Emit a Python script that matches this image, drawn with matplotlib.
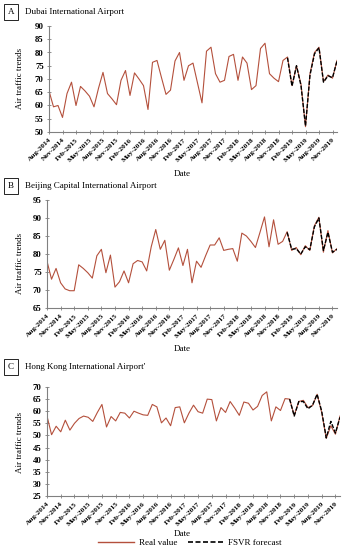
import matplotlib
matplotlib.use("Agg")
import matplotlib.pyplot as plt
import numpy as np

plt.rcParams['font.family'] = ['Liberation Serif', 'DejaVu Serif']

# monthly values, Aug-2014 .. Dec-2019
dubai_real = [65.5, 59.5, 60, 55.5, 64.5, 68.8, 60, 67.2, 65.5, 63.5, 59.5, 66.5,
              72.5, 64.5, 62.5, 60.3, 69.5, 73.2, 63.8, 72.3, 70, 67.5, 58.5, 76.3,
              77, 70.5, 64.2, 65.8, 76.8, 80, 69.5, 75, 76, 68.5, 61, 80.5,
              82, 72, 68.8, 69.5, 78.5, 79.3, 69.5, 78.3, 76, 66, 67.5, 81.5,
              83.5, 72, 70.3, 69, 77, 78.3, 67.5, 75, 68, 52, 72, 80,
              82, 69, 71.5, 70.3, 77]
dubai_fc = [78, 67.3, 75, 67.5, 52.3, 71.5, 79.5, 81.8, 68.8, 71.2, 70.5, 76.8]

beijing_real = [78, 73, 76, 72, 70.3, 69.8, 69.8, 77, 76, 74.8, 73.3, 79.5,
                81.3, 74.8, 79.7, 70.8, 72.3, 75.3, 72, 77.3, 78.2, 77.8, 75.3, 82,
                86.8, 81.3, 83.8, 75.5, 78.5, 81.7, 76.8, 81.3, 72, 78, 76.3, 79.5,
                82.5, 82.5, 84.5, 81, 81.3, 81.5, 78, 85.8, 85, 83.5, 81.8, 86,
                90.3, 82, 89.5, 82.7, 83.5, 86.2, 81, 81.8, 79.8, 82.3, 81, 87.8,
                90.2, 80.5, 86.5, 80.3, 81.5]
beijing_fc = [86, 81.3, 81.5, 80, 82, 81.2, 87.5, 90, 81, 86, 80.5, 81.3]

hk_real = [58, 50.3, 53.8, 51.5, 56.3, 52.2, 55, 57, 58, 57.5, 55.8, 59.5,
           62.8, 53.5, 57.8, 56, 59.5, 59.2, 57.2, 60, 59.2, 58.5, 58.3, 62.8,
           61.8, 55.2, 57.2, 54, 61.5, 61.8, 55.2, 59.2, 62.5, 59.8, 59.2, 65,
           64.8, 56, 61.5, 59.5, 64, 61.3, 58.3, 63.8, 63.3, 60.5, 62, 66.5,
           68, 56, 61.8, 60.3, 65.2, 65, 58.3, 64, 64.5, 61.5, 62.3, 67,
           59.5, 48.8, 54, 50.5, 58]
hk_fc = [65, 58, 64, 64, 61, 62.5, 67, 60, 49, 55.8, 51, 57.5]

fc_start = 53  # Jan-2019

tick_labels = ['Aug-2014', 'Nov-2014', 'Feb-2015', 'May-2015', 'Aug-2015', 'Nov-2015',
               'Feb-2016', 'May-2016', 'Aug-2016', 'Nov-2016', 'Feb-2017', 'May-2017',
               'Aug-2017', 'Nov-2017', 'Feb-2018', 'May-2018', 'Aug-2018', 'Nov-2018',
               'Feb-2019', 'May-2019', 'Aug-2019', 'Nov-2019']

W, H = 346, 550
fig = plt.figure(figsize=(W / 100, H / 100), dpi=100)

red = '#B4503C'
grey = '#808080'
fs = 6.5

panels = [
    ('A', 'Dubai International Airport', dubai_real, dubai_fc, (50, 90),
     (49, 337, 26, 132), 12, 78, 174),
    ('B', 'Beijing Capital International Airport', beijing_real, beijing_fc, (65, 95),
     (47, 337, 200, 308), 186, 263, 349),
    ('C', "Hong Kong International Airport'", hk_real, hk_fc, (25, 70),
     (47, 340, 387, 496), 367, 442, 534),
]

for letter, title, real, fc, ylim, box, ty, yly, dy in panels:
    l, r, t, b = box
    ax = fig.add_axes([l / W, 1 - b / H, (r - l) / W, (b - t) / H])
    x = np.arange(len(real))
    ax.plot(x, real, color=red, lw=0.8)
    xf = np.arange(fc_start, fc_start + len(fc))
    ax.plot(xf, fc, color='black', lw=1.0, ls=(0, (3, 1.2)))
    ax.set_xlim(0, len(real) - 1)
    ax.set_ylim(*ylim)
    ax.set_yticks(np.arange(ylim[0], ylim[1] + 1, 5))
    ax.set_xticks(np.arange(0, 3 * len(tick_labels), 3))
    ax.set_xticklabels(tick_labels, rotation=45, ha='right', rotation_mode='anchor',
                       fontsize=5.3, fontweight='bold')
    for lab in ax.get_yticklabels():
        lab.set_fontsize(6.3)
        lab.set_fontweight('bold')
    ax.tick_params(direction='inout', length=3.5, width=0.6, color=grey, pad=2)
    for s in ['top', 'right']:
        ax.spines[s].set_visible(False)
    for s in ['left', 'bottom']:
        ax.spines[s].set_color(grey)
        ax.spines[s].set_linewidth(0.8)
    ax.patch.set_alpha(0)

    fig.text(11 / W, 1 - ty / H, letter, fontsize=fs, ha='center', va='center',
             bbox=dict(boxstyle='square,pad=0.45', fc='white', ec='black', lw=0.6))
    fig.text(25 / W, 1 - ty / H, title, fontsize=fs, ha='left', va='center')
    fig.text(20 / W, 1 - yly / H, 'Air traffic trends', fontsize=fs, rotation=90,
             ha='center', va='center')
    fig.text(182 / W, 1 - dy / H, 'Date', fontsize=fs, ha='center', va='center')

handles = [plt.Line2D([], [], color=red, lw=1.0),
           plt.Line2D([], [], color='black', lw=1.2, ls=(0, (3, 1.5)))]
fig.legend(handles, ['Real value', 'FSVR forecast'], loc='center',
           bbox_to_anchor=(190 / W, 1 - 543 / H), ncol=2, frameon=False,
           fontsize=fs, handlelength=4, columnspacing=1.2, handletextpad=0.5)

fig.savefig('out.png', dpi=100)
